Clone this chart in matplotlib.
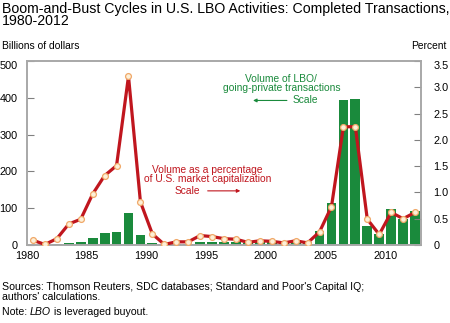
import matplotlib
matplotlib.use("Agg")
import matplotlib.pyplot as plt
import matplotlib.transforms as mtransforms
import numpy as np

plt.rcParams['font.family'] = ['Liberation Sans', 'DejaVu Sans']

# data
years = np.arange(1980, 2013)
volume_bn = [1, 1, 2, 6, 7, 20, 32, 36, 86, 26,
             5, 1, 3, 3, 7, 9, 9, 8, 6, 8,
             9, 6, 5, 8, 38, 115, 394, 398, 52, 29,
             97, 72, 93]
pct_mktcap = [0.09, 0.01, 0.12, 0.40, 0.49, 0.97, 1.32, 1.51, 3.21, 0.82,
              0.21, 0.01, 0.06, 0.06, 0.18, 0.16, 0.12, 0.11, 0.05, 0.08,
              0.07, 0.04, 0.08, 0.04, 0.25, 0.73, 2.25, 2.25, 0.49, 0.20,
              0.62, 0.50, 0.62]

green = '#1a8a3c'
red = '#c0161e'
frame = '#a8a8a8'

fig = plt.figure(figsize=(4.5, 3.23), dpi=100)
ax = fig.add_axes([0.06, 0.2415, 0.8756, 0.5695])
ax2 = ax.twinx()

x = years + 0.5
ax.bar(x, volume_bn, width=0.82, color=green, zorder=2)
ax.set_ylim(0, 500)
ax.set_xlim(1980, 2013)
ax.set_yticks([0, 100, 200, 300, 400, 500])
ax.set_xticks([1980, 1985, 1990, 1995, 2000, 2005, 2010])

ax2.plot(x, pct_mktcap, color=red, lw=2.3, zorder=3,
         marker='o', ms=4.2, mfc='#fdf0d8', mec='#f0a868', mew=0.9)
ax2.set_ylim(0, 3.5)
ax2.set_yticks([0, 0.5, 1.0, 1.5, 2.0, 2.5, 3.0, 3.5])
ax2.set_yticklabels(['0', '0.5', '1.0', '1.5', '2.0', '2.5', '3.0', '3.5'])

for a in (ax, ax2):
    for s in a.spines.values():
        s.set_color(frame)
        s.set_linewidth(1.2)
    a.tick_params(direction='in', length=5, color='#808080', labelsize=7.8,
                  labelcolor='black')
ax.tick_params(axis='x', length=0, pad=4)
ax.tick_params(axis='y', pad=7)
ax2.tick_params(axis='y', pad=9)

# top labels sit a bit below the frame in the original
shift = mtransforms.ScaledTranslation(0, -4 / 100, fig.dpi_scale_trans)
for lab in (ax.get_yticklabels()[-1], ax2.get_yticklabels()[-1]):
    lab.set_transform(lab.get_transform() + shift)

fig.text(0.005, 0.995, 'Boom-and-Bust Cycles in U.S. LBO Activities: Completed Transactions,\n1980-2012',
         ha='left', va='top', fontsize=10.2, linespacing=0.88)
fig.text(0.005, 0.858, 'Billions of dollars', ha='left', va='center', fontsize=7.4)
fig.text(0.992, 0.858, 'Percent', ha='right', va='center', fontsize=7.4)

# annotations
ax2.text(2001.3, 3.07, 'Volume of LBO/\ngoing-private transactions', color=green,
         ha='center', va='center', fontsize=7.4, linespacing=0.95)
ax2.text(2003.3, 2.75, 'Scale', color=green, ha='center', va='center', fontsize=7.4)
ax2.annotate('', xy=(1998.7, 2.75), xytext=(2002.0, 2.75),
             arrowprops=dict(arrowstyle='-|>', color=green, lw=0.8, mutation_scale=5))
ax2.text(1995.1, 1.34, 'Volume as a percentage\nof U.S. market capitalization', color=red,
         ha='center', va='center', fontsize=7.4, linespacing=0.95)
ax2.text(1993.4, 1.03, 'Scale', color=red, ha='center', va='center', fontsize=7.4)
ax2.annotate('', xy=(1998.1, 1.03), xytext=(1994.9, 1.03),
             arrowprops=dict(arrowstyle='-|>', color=red, lw=0.8, mutation_scale=5))

fig.text(0.005, 0.096, "Sources: Thomson Reuters, SDC databases; Standard and Poor's Capital IQ;\nauthors' calculations.",
         ha='left', va='center', fontsize=7.6, linespacing=1.12)

# note line, pieces placed one after another
fig.canvas.draw()
r = fig.canvas.get_renderer()
xpos = 2
for txt, st in [('Note: ', 'normal'), ('LBO', 'italic'), (' is leveraged buyout.', 'normal')]:
    t = fig.text(xpos / 450, 1 - 312 / 323, txt, ha='left', va='center', fontsize=7.6, style=st)
    xpos += t.get_window_extent(renderer=r).width

fig.savefig('out.png', dpi=100)
